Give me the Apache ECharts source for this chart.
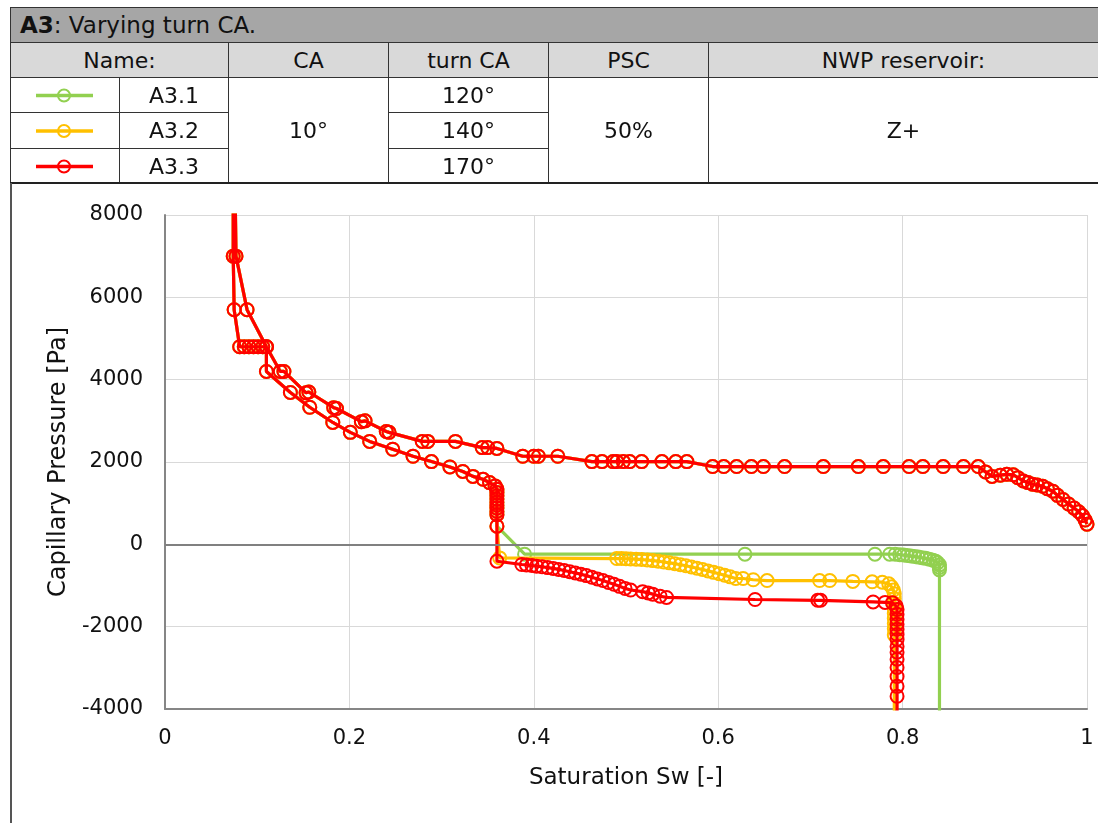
<!DOCTYPE html>
<html>
<head>
<meta charset="utf-8">
<script src="https://cdn.jsdelivr.net/npm/echarts@6/dist/echarts.min.js"></script>
<style>
html,body{margin:0;padding:0;background:#fff;}
#chart{position:absolute;left:0;top:0;width:1098px;height:823px;}
.c{position:absolute;box-sizing:border-box;border-left:1px solid #333;border-top:1px solid #333;display:flex;align-items:center;justify-content:center;font-family:'DejaVu Sans',sans-serif;font-size:22px;color:#111;white-space:nowrap;}
.hd{background:#d9d9d9;}
</style>
</head>
<body>
<div id="chart"></div>
<div id="tbl">
  <div class="c" style="left:10px;top:7px;width:1088px;height:35px;background:#a6a6a6;justify-content:flex-start;padding-left:9px;font-size:23px;"><span><b>A3</b>: Varying turn CA.</span></div>
  <div class="c hd" style="left:10px;top:42px;width:218px;height:35px;">Name:</div>
  <div class="c hd" style="left:228px;top:42px;width:160px;height:35px;">CA</div>
  <div class="c hd" style="left:388px;top:42px;width:160px;height:35px;">turn CA</div>
  <div class="c hd" style="left:548px;top:42px;width:160px;height:35px;">PSC</div>
  <div class="c hd" style="left:708px;top:42px;width:390px;height:35px;">NWP reservoir:</div>

  <div class="c" style="left:10px;top:77px;width:109px;height:35px;"><svg width="109" height="35"><line x1="25" y1="17.5" x2="82" y2="17.5" stroke="#92d050" stroke-width="3.5"/><circle cx="53" cy="17.5" r="6" fill="none" stroke="#92d050" stroke-width="2"/></svg></div>
  <div class="c" style="left:10px;top:112px;width:109px;height:36px;"><svg width="109" height="36"><line x1="25" y1="18" x2="82" y2="18" stroke="#ffc000" stroke-width="3.5"/><circle cx="53" cy="18" r="6" fill="none" stroke="#ffc000" stroke-width="2"/></svg></div>
  <div class="c" style="left:10px;top:148px;width:109px;height:35px;"><svg width="109" height="35"><line x1="25" y1="17.5" x2="82" y2="17.5" stroke="#ff0000" stroke-width="3.5"/><circle cx="53" cy="17.5" r="6" fill="none" stroke="#ff0000" stroke-width="2"/></svg></div>

  <div class="c" style="left:119px;top:77px;width:109px;height:35px;">A3.1</div>
  <div class="c" style="left:119px;top:112px;width:109px;height:36px;">A3.2</div>
  <div class="c" style="left:119px;top:148px;width:109px;height:35px;">A3.3</div>

  <div class="c" style="left:228px;top:77px;width:160px;height:106px;">10°</div>

  <div class="c" style="left:388px;top:77px;width:160px;height:35px;">120°</div>
  <div class="c" style="left:388px;top:112px;width:160px;height:36px;">140°</div>
  <div class="c" style="left:388px;top:148px;width:160px;height:35px;">170°</div>

  <div class="c" style="left:548px;top:77px;width:160px;height:106px;">50%</div>
  <div class="c" style="left:708px;top:77px;width:390px;height:106px;">Z+</div>

  <div style="position:absolute;left:10px;top:182px;width:1088px;height:2px;background:#222;"></div>
  <div style="position:absolute;left:10px;top:183px;width:2px;height:640px;background:#555;"></div>
</div>
<script>
// Primary drainage (shared by all three cases), from Sw = 1 to the top
const drainSw = [1.000,0.998,0.995,0.991,0.986,0.980,0.974,0.968,0.963,0.957,0.952,0.946,0.941,0.936,0.931,0.925,0.920,0.913,0.906,0.897,0.890,0.882,0.866,0.844,0.822,0.807,0.779,0.752,0.714,0.672,0.649,0.636,0.620,0.606,0.594,0.566,0.554,0.539,0.517,0.504,0.497,0.490,0.486,0.474,0.463,0.426,0.405,0.400,0.388,0.360,0.350,0.344,0.315,0.285,0.279,0.243,0.240,0.217,0.213,0.186,0.183,0.156,0.153,0.129,0.125,0.110,0.089,0.077,0.074];
const drainPc = [490,590,700,790,880,980,1090,1190,1290,1350,1410,1440,1460,1500,1540,1620,1690,1700,1680,1650,1760,1890,1890,1890,1890,1890,1890,1890,1890,1890,1890,1890,1890,1890,1890,2010,2010,2010,2010,2010,2010,2010,2010,2010,2010,2140,2140,2140,2140,2330,2350,2350,2500,2500,2500,2720,2740,3000,2980,3300,3320,3700,3680,4200,4200,4800,5700,7000,12000];

// Imbibition, common part (down to the jump at Sw = 0.36)
const imbSw = [0.074,0.075,0.081,0.086,0.091,0.096,0.101,0.106,0.110,0.110,0.136,0.157,0.182,0.201,0.222,0.247,0.269,0.289,0.309,0.323,0.334,0.345,0.352,0.358,0.360,0.360,0.360,0.360,0.360,0.360,0.360,0.360,0.360,0.360];
const imbPc = [7000,5700,4800,4800,4800,4800,4800,4800,4800,4200,3690,3330,2960,2720,2500,2310,2140,2010,1880,1770,1650,1580,1500,1420,1340,1260,1180,1100,1020,950,880,800,720,440];

// A3.1 (turn CA 120°) imbibition tail
const a31Sw = [0.390,0.629,0.770,0.786,0.792,0.797,0.801,0.805,0.809,0.813,0.817,0.821,0.825,0.829,0.833,0.836,0.838,0.840,0.840,0.840,0.840];
const a31Pc = [-240,-240,-240,-240,-240,-250,-260,-270,-285,-295,-310,-325,-340,-360,-385,-410,-450,-500,-560,-620,-6000];

// A3.2 (turn CA 140°) imbibition tail
const a32Sw = [0.363,0.490,0.495,0.500,0.505,0.511,0.517,0.523,0.529,0.535,0.541,0.547,0.553,0.559,0.565,0.571,0.577,0.583,0.589,0.595,0.601,0.607,0.613,0.619,0.627,0.638,0.653,0.710,0.721,0.746,0.767,0.778,0.785,0.788,0.790,0.791,0.791,0.791,0.791,0.791,0.791,0.791,0.791,0.791,0.791];
const a32Pc = [-330,-345,-345,-350,-355,-360,-370,-380,-395,-410,-430,-450,-470,-495,-520,-550,-580,-610,-645,-680,-715,-750,-790,-830,-830,-860,-880,-880,-880,-900,-910,-920,-960,-1030,-1110,-1200,-1320,-1440,-1560,-1680,-1800,-1920,-2050,-2200,-6000];

// A3.3 (turn CA 170°) imbibition tail
const a33Sw = [0.360,0.387,0.392,0.398,0.403,0.409,0.415,0.421,0.427,0.433,0.439,0.445,0.451,0.457,0.463,0.469,0.475,0.481,0.487,0.493,0.499,0.505,0.518,0.524,0.529,0.537,0.544,0.640,0.708,0.711,0.768,0.781,0.789,0.793,0.794,0.794,0.794,0.794,0.794,0.794,0.794,0.794,0.794,0.794,0.794,0.794,0.794,0.794,0.794];
const a33Pc = [-410,-490,-500,-515,-530,-545,-565,-585,-610,-635,-665,-695,-725,-760,-800,-840,-880,-925,-970,-1020,-1070,-1110,-1150,-1180,-1210,-1260,-1290,-1340,-1360,-1360,-1400,-1410,-1420,-1500,-1580,-1700,-1820,-1940,-2060,-2190,-2310,-2480,-2620,-2790,-2990,-3210,-3450,-3690,-6000];

const seriesNames = ['A3.1','A3.2','A3.3'];
const seriesColors = ['#92d050','#ffc000','#ff0000'];
const tails = [[a31Sw,a31Pc],[a32Sw,a32Pc],[a33Sw,a33Pc]];

function zip(xs, ys){ return xs.map((x,i)=>[x, ys[i]]); }
const common = zip(drainSw, drainPc).concat(zip(imbSw, imbPc));

const FONT = 'DejaVu Sans';
const series = seriesNames.map((name, k) => {
  const s = {
    name: name,
    type: 'line',
    data: common.concat(zip(tails[k][0], tails[k][1])),
    symbol: 'circle',
    symbolSize: 13,
    showAllSymbol: true,
    clip: true,
    lineStyle: {color: seriesColors[k], width: 3.2},
    itemStyle: {color: 'rgba(255,255,255,0)', borderColor: seriesColors[k], borderWidth: 2},
    emphasis: {disabled: true},
    z: 2 + k
  };
  if (k === 0) {
    s.markLine = {
      silent: true, symbol: 'none', animation: false,
      label: {show: false},
      lineStyle: {color: '#808080', width: 2, type: 'solid'},
      data: [{yAxis: 0}]
    };
  }
  return s;
});

const chart = echarts.init(document.getElementById('chart'));
chart.setOption({
  animation: false,
  backgroundColor: '#fff',
  grid: {left: 165, top: 215, width: 922, height: 494, containLabel: false},
  xAxis: {
    type: 'value', min: 0, max: 1, interval: 0.2,
    axisLine: {show: true, onZero: false, lineStyle: {color: '#868686', width: 2}},
    axisTick: {show: false},
    splitLine: {show: true, lineStyle: {color: '#d9d9d9', width: 1}},
    axisLabel: {fontFamily: FONT, fontSize: 21, color: '#111', margin: 19},
    name: 'Saturation Sw [-]', nameLocation: 'middle', nameGap: 58,
    nameTextStyle: {fontFamily: FONT, fontSize: 23, color: '#111'}
  },
  yAxis: {
    type: 'value', min: -4000, max: 8000, interval: 2000,
    axisLine: {show: true, lineStyle: {color: '#868686', width: 2}},
    axisTick: {show: false},
    splitLine: {show: true, lineStyle: {color: '#d9d9d9', width: 1}},
    axisLabel: {fontFamily: FONT, fontSize: 21, color: '#111', margin: 22, formatter: function (v) { return String(v); }},
    name: 'Capillary Pressure [Pa]', nameLocation: 'middle', nameGap: 87, nameRotate: 90,
    nameTextStyle: {fontFamily: FONT, fontSize: 24, color: '#111'}
  },
  series: series
});
</script>
</body>
</html>
